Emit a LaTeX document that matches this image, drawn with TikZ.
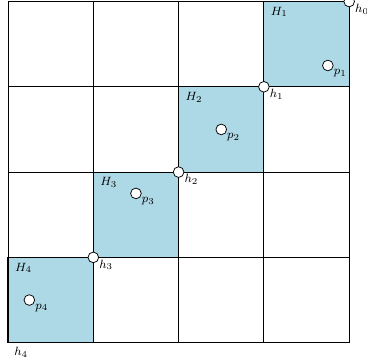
\documentclass[tikz,border=0pt]{standalone}
\usetikzlibrary{positioning}
\definecolor{cellblue}{RGB}{173,216,230}
\begin{document}
\begin{tikzpicture}[x=2cm, y=2cm, every node/.style={font=\footnotesize},
  dot/.style={circle, draw, fill=white, inner sep=0pt, minimum size=0.25cm, line width=0.5pt},
  lbl/.style={inner sep=0pt}]
\useasboundingbox (-0.094,-0.226) rectangle (4.209,4.018);
% Blocks on the diagonal
\foreach \i in {0,...,3} \fill[cellblue] (\i,\i) rectangle ++(1,1);
% Grid
\draw[line width=0.6pt, step=2cm] (0,0) grid (4,4);
\foreach \i in {0,...,3} \draw[line width=0.7pt] (\i,\i) rectangle ++(1,1);
% Block names
\foreach \k in {1,...,4}
  \node[lbl, anchor=north west, xshift=4.5pt, yshift=-3.5pt] (H\k) at (4-\k,5-\k) {$H_\k$};
% Corner points
\node[dot] (h0) at (4,4) {};
\node[dot] (h1) at (3,3) {};
\node[dot] (h2) at (2,2) {};
\node[dot] (h3) at (1,1) {};
\coordinate (h4) at (0,0);
\foreach \k in {0,...,3}
  \node[lbl, below right=1.5pt and 0pt of h\k.east] {$h_\k$};
\node[lbl, below right=2.7pt and 4pt of h4] {$h_4$};
% Points inside the blocks
\node[dot] (p1) at (3.75,3.25) {};
\node[dot] (p2) at (2.5,2.5) {};
\node[dot] (p3) at (1.5,1.75) {};
\node[dot] (p4) at (0.25,0.5) {};
\foreach \k in {1,...,4}
  \node[lbl, below right=2.5pt and 0pt of p\k.east] {$p_\k$};
\end{tikzpicture}
\end{document}
